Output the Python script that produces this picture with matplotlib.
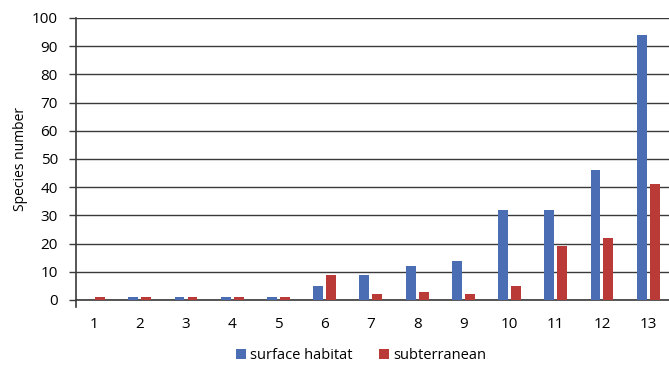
import numpy as np
import matplotlib.pyplot as plt

categories = list(range(1, 14))
surface = [0, 1, 1, 1, 1, 5, 9, 12, 14, 32, 32, 46, 94]
subterranean = [1, 1, 1, 1, 1, 9, 2, 3, 2, 5, 19, 22, 41]

plt.rcParams['font.family'] = ['Open Sans', 'DejaVu Sans']

fig = plt.figure(figsize=(6.69, 3.67), dpi=100)
ax = fig.add_axes([0.1136, 0.1826, 0.8864, 0.7684])

x = np.array(categories)
w = 0.215
blue = '#4A6DB4'
red = '#BA3A37'
ax.bar(x - 0.14, surface, width=w, color=blue, label='surface habitat', zorder=3)
ax.bar(x + 0.14, subterranean, width=w, color=red, label='subterranean', zorder=3)

ax.set_xlim(0.62, 13.45)
ax.set_ylim(0, 100)
ax.set_yticks(range(0, 101, 10))
ax.set_xticks(categories)
ax.grid(axis='y', color='#3a3a3a', linewidth=1.0, zorder=1)

for s in ['top', 'right']:
    ax.spines[s].set_visible(False)
ax.spines['left'].set_color('#3a3a3a')
ax.spines['bottom'].set_color('#3a3a3a')
ax.spines['left'].set_linewidth(1.2)
ax.spines['bottom'].set_linewidth(1.2)
ax.spines['left'].set_bounds(-2.5, 100)

ax.tick_params(axis='y', length=5, width=1, color='#3a3a3a', labelsize=11, pad=8)
ax.tick_params(axis='x', length=0, labelsize=11, pad=12)
ax.set_ylabel('Species number', fontsize=10, labelpad=3)

fig.legend(loc='center', bbox_to_anchor=(0.54, 0.03), ncol=2, frameon=False,
           fontsize=10.5, handlelength=0.7, handleheight=0.7, handletextpad=0.3,
           columnspacing=1.8)

fig.savefig('out.png', dpi=100)
